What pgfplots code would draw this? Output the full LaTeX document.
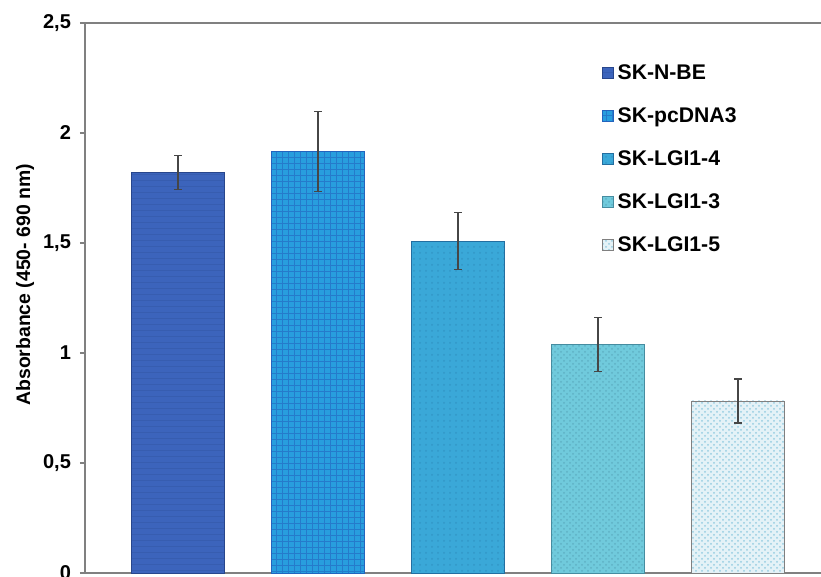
\documentclass[border=0pt]{standalone}
\usepackage{fontspec}
\setmainfont{Liberation Sans}
\usepackage{pgfplots}
\pgfplotsset{compat=1.18}
\usetikzlibrary{patterns}
\definecolor{cA}{RGB}{60,100,188}
\definecolor{cAe}{RGB}{40,70,140}
\definecolor{cB}{RGB}{40,158,222}
\definecolor{cBg}{RGB}{35,100,190}
\definecolor{cC}{RGB}{58,168,216}
\definecolor{cCe}{RGB}{35,110,160}
\definecolor{cD}{RGB}{112,202,220}
\definecolor{cDe}{RGB}{70,140,160}
\definecolor{cE}{RGB}{228,242,247}
\definecolor{cEd}{RGB}{150,205,225}
\definecolor{axg}{RGB}{128,128,128}
\definecolor{errg}{RGB}{70,70,70}
\begin{document}
\begin{tikzpicture}
\pgfplotsset{
  mybar/.style={ybar, bar width=46.5pt, bar shift=0pt,
    error bars/y dir=both, error bars/y explicit,
    error bars/error bar style={errg, line width=0.6pt},
    error bars/error mark options={errg, line width=0.6pt, rotate=90, mark size=1.9pt},
    legend image code/.code={\draw[##1] (0pt,0.5pt) rectangle (5.2pt,5.7pt);}},
}
\begin{axis}[
  name=ax,
  scale only axis,
  width=368pt, height=275pt,
  xmin=-0.664, xmax=4.593,
  ymin=0, ymax=2.5,
  axis x line*=bottom, axis y line*=left,
  axis line style={axg, line width=0.9pt},
  xtick=\empty,
  ytick={0,0.5,1,1.5,2,2.5},
  yticklabels={\textbf{0},\textbf{0,5},\textbf{1},\textbf{1,5},\textbf{2},\textbf{2,5}},
  yticklabel style={font=\fontsize{10pt}{12pt}\selectfont\bfseries, xshift=-1pt},
  tick align=outside,
  major tick length=2.5pt,
  ytick style={axg, line width=0.8pt},
  ylabel={\textbf{Absorbance (450- 690 nm)}},
  every axis y label/.style={at={([xshift=-30pt]rel axis cs:0,0.524)}, rotate=90, anchor=center, font=\fontsize{9.7pt}{11pt}\selectfont\bfseries},
  legend style={draw=none, fill=none, at={(rel axis cs:0.703,0.929)}, anchor=north west,
    inner sep=0pt, outer sep=0pt, row sep=9.5pt, column sep=0pt,
    nodes={inner sep=1pt, text height=7.5pt, text depth=2.5pt, anchor=base west},
    font=\fontsize{10.6pt}{12pt}\selectfont\bfseries},
  legend cell align=left,
  clip=false,
]
\addplot[mybar, fill=cA, draw=cAe, postaction={pattern=horizontal lines, pattern color=cAe!25!cA}] coordinates {(0,1.82) +- (0,0.077)};
\addlegendentry{\hspace{1pt}SK-N-BE}
\addplot[mybar, fill=cB, draw=cBg, postaction={pattern=grid, pattern color=cBg!60!cB}] coordinates {(1,1.915) +- (0,0.182)};
\addlegendentry{\hspace{1pt}SK-pcDNA3}
\addplot[mybar, fill=cC, draw=cCe, postaction={pattern=dots, pattern color=cCe!30!cC}] coordinates {(2,1.509) +- (0,0.13)};
\addlegendentry{\hspace{1pt}SK-LGI1-4}
\addplot[mybar, fill=cD, draw=cDe, postaction={pattern=crosshatch dots, pattern color=cDe!40!cD}] coordinates {(3,1.039) +- (0,0.123)};
\addlegendentry{\hspace{1pt}SK-LGI1-3}
\addplot[mybar, fill=cE, draw=axg, postaction={pattern=crosshatch dots, pattern color=cEd}] coordinates {(4,0.782) +- (0,0.1)};
\addlegendentry{\hspace{1pt}SK-LGI1-5}
\draw[axg, line width=0.9pt] (rel axis cs:0,1) -- (rel axis cs:1,1);
\end{axis}
\pgfresetboundingbox
\useasboundingbox ([xshift=-42.5pt,yshift=-2pt]ax.south west) rectangle ([yshift=11.5pt]ax.north east);
\end{tikzpicture}
\end{document}
